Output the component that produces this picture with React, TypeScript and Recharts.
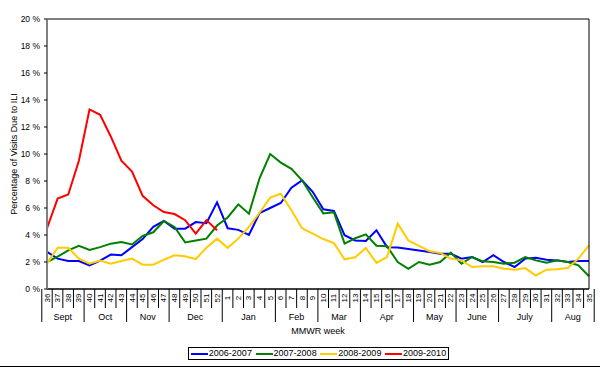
import { LineChart, Line, XAxis, YAxis, CartesianGrid } from "recharts";

const weeks = [
  "36", "37", "38", "39", "40", "41", "42", "43", "44", "45", "46", "47", "48", "49", "50", "51", "52",
  "1", "2", "3", "4", "5", "6", "7", "8", "9", "10", "11", "12", "13", "14", "15", "16", "17", "18",
  "19", "20", "21", "22", "23", "24", "25", "26", "27", "28", "29", "30", "31", "32", "33", "34", "35",
];

const months = [
  { name: "Sept", first: "36", last: "39" },
  { name: "Oct", first: "40", last: "43" },
  { name: "Nov", first: "44", last: "47" },
  { name: "Dec", first: "48", last: "52" },
  { name: "Jan", first: "1", last: "5" },
  { name: "Feb", first: "6", last: "9" },
  { name: "Mar", first: "10", last: "13" },
  { name: "Apr", first: "14", last: "18" },
  { name: "May", first: "19", last: "22" },
  { name: "June", first: "23", last: "26" },
  { name: "July", first: "27", last: "31" },
  { name: "Aug", first: "32", last: "35" },
];

const s0607 = [
  2.75, 2.25, 2.07, 2.07, 1.75, 2.1, 2.55, 2.5, 3.1, 3.7, 4.6, 5.05, 4.47, 4.47, 4.96, 4.88, 6.42,
  4.5, 4.38, 4.0, 5.63, 6.0, 6.37, 7.5, 8.05, 7.2, 5.9, 5.78, 3.98, 3.6, 3.55, 4.35, 3.1, 3.08, 2.97,
  2.86, 2.74, 2.62, 2.62, 2.25, 2.37, 2.0, 2.5, 2.0, 1.63, 2.25, 2.32, 2.17, 2.12, 2.0, 2.07, 2.07,
];
const s0708 = [
  2.0, 2.4, 2.86, 3.2, 2.9, 3.1, 3.36, 3.48, 3.3, 3.93, 4.2, 5.04, 4.6, 3.45, 3.6, 3.73, 4.7,
  5.3, 6.27, 5.58, 8.2, 10.0, 9.36, 8.9, 8.05, 6.8, 5.6, 5.68, 3.36, 3.76, 4.05, 3.2, 3.16, 2.0, 1.5,
  2.0, 1.8, 2.0, 2.7, 1.88, 2.37, 2.05, 2.0, 1.88, 1.95, 2.37, 2.12, 1.95, 2.12, 2.0, 1.75, 0.94,
];
const s0809 = [
  1.88, 3.06, 3.06, 2.25, 1.88, 2.1, 1.88, 2.07, 2.25, 1.8, 1.8, 2.17, 2.5, 2.42, 2.22, 3.05, 3.73,
  3.05, 3.73, 4.6, 5.65, 6.77, 7.06, 5.83, 4.5, 4.1, 3.7, 3.4, 2.2, 2.35, 3.03, 1.93, 2.37, 4.84, 3.6,
  3.2, 2.8, 2.67, 2.25, 2.12, 1.63, 1.68, 1.68, 1.5, 1.43, 1.55, 1.0, 1.43, 1.46, 1.55, 2.25, 3.23,
];
const s0910 = [
  4.5, 6.7, 7.0, 9.5, 13.3, 12.9, 11.3, 9.5, 8.7, 6.9, 6.2, 5.7, 5.55, 5.1, 4.1, 5.1, 4.35,
];

const yTicks = [0, 2, 4, 6, 8, 10, 12, 14, 16, 18, 20];

const seasons = [
  { key: "s0607", name: "2006-2007", color: "#0000ff" },
  { key: "s0708", name: "2007-2008", color: "#008000" },
  { key: "s0809", name: "2008-2009", color: "#ffcc00" },
  { key: "s0910", name: "2009-2010", color: "#ff0000" },
];

const data = weeks.map((week, i) => ({
  week,
  s0607: s0607[i],
  s0708: s0708[i],
  s0809: s0809[i],
  s0910: i < s0910.length ? s0910[i] : null,
}));

const W = 600;
const H = 367;
const LEFT = 47;
const RIGHT = 11;
const BAND = (W - LEFT - RIGHT) / weeks.length;
const FONT = "'Liberation Sans', Arial, sans-serif";

const WeekTick = (props: any) => {
  const { x, y, payload } = props;
  const week = String(payload.value);
  const idx = weeks.indexOf(week);
  const isLast = months.some((m) => m.last === week);
  const month = months.find((m) => m.first === week);
  let monthX = 0;
  if (month) {
    const n = weeks.indexOf(month.last) - idx + 1;
    monthX = x - BAND / 2 + (n * BAND) / 2;
  }
  return (
    <g>
      {idx === 0 && (
        <line x1={x - BAND / 2} y1={y} x2={x - BAND / 2} y2={y + 33} stroke="#000" />
      )}
      <line
        x1={x + BAND / 2}
        y1={y}
        x2={x + BAND / 2}
        y2={y + (isLast ? 33 : 19)}
        stroke="#000"
      />
      <text
        x={x}
        y={y + 9}
        fontSize={8}
        fontFamily={FONT}
        fill="#000"
        textAnchor="middle"
        dominantBaseline="central"
        transform={`rotate(-90, ${x}, ${y + 9})`}
      >
        {week}
      </text>
      {month && (
        <text x={monthX} y={y + 31} fontSize={9} fontFamily={FONT} fill="#000" textAnchor="middle">
          {month.name}
        </text>
      )}
    </g>
  );
};

const YLabel = (props: any) => {
  const vb = props.viewBox || {};
  const cx = 14;
  const cy = vb.y + vb.height / 2;
  return (
    <text
      x={cx}
      y={cy}
      fontSize={9}
      fontFamily={FONT}
      fill="#000"
      textAnchor="middle"
      dominantBaseline="central"
      transform={`rotate(-90, ${cx}, ${cy})`}
    >
      Percentage of Visits Due to ILI
    </text>
  );
};

const XLabel = (props: any) => {
  const vb = props.viewBox || {};
  return (
    <text
      x={vb.x + vb.width / 2}
      y={334}
      fontSize={9}
      fontFamily={FONT}
      fill="#000"
      textAnchor="middle"
    >
      MMWR week
    </text>
  );
};

export default function App() {
  return (
    <div
      style={{
        position: "absolute",
        left: 0,
        top: 0,
        width: W,
        height: H,
        background: "#fff",
        fontFamily: FONT,
      }}
    >
      <LineChart
        width={W}
        height={H}
        data={data}
        margin={{ top: 19, right: 0, bottom: 0, left: 0 }}
      >
        <CartesianGrid vertical={false} stroke="#000" />
        <XAxis
          dataKey="week"
          interval={0}
          height={78}
          tickLine={false}
          tickSize={0}
          tickMargin={0}
          axisLine={{ stroke: "#000" }}
          tick={<WeekTick />}
          label={<XLabel />}
        />
        <YAxis
          yAxisId="left"
          width={LEFT}
          domain={[0, 20]}
          ticks={yTicks}
          interval={0}
          tickSize={3}
          tickMargin={4}
          tickLine={{ stroke: "#000" }}
          axisLine={{ stroke: "#808080", strokeWidth: 2 }}
          tick={{ fontSize: 8.5, fill: "#000", fontFamily: FONT }}
          tickFormatter={(v) => `${v} %`}
          label={<YLabel />}
        />
        <YAxis
          yAxisId="right"
          orientation="right"
          width={RIGHT}
          domain={[0, 20]}
          tick={false}
          tickLine={false}
          axisLine={{ stroke: "#000" }}
        />
        {seasons.map((s) => (
          <Line
            key={s.key}
            yAxisId="left"
            type="linear"
            dataKey={s.key}
            name={s.name}
            stroke={s.color}
            strokeWidth={2}
            dot={false}
            isAnimationActive={false}
          />
        ))}
      </LineChart>
      <div
        style={{
          position: "absolute",
          left: 188,
          top: 347,
          width: 259,
          height: 11,
          border: "1px solid #000",
          display: "flex",
          alignItems: "center",
          justifyContent: "space-around",
          fontSize: 9,
          lineHeight: "11px",
          background: "#fff",
        }}
      >
        {seasons.map((s) => (
          <div key={s.key} style={{ display: "flex", alignItems: "center" }}>
            <span style={{ display: "inline-block", width: 17, height: 2, background: s.color }} />
            <span style={{ marginLeft: 1 }}>{s.name}</span>
          </div>
        ))}
      </div>
      <div style={{ position: "absolute", left: 0, top: 366, width: W, height: 1, background: "#000" }} />
    </div>
  );
}
